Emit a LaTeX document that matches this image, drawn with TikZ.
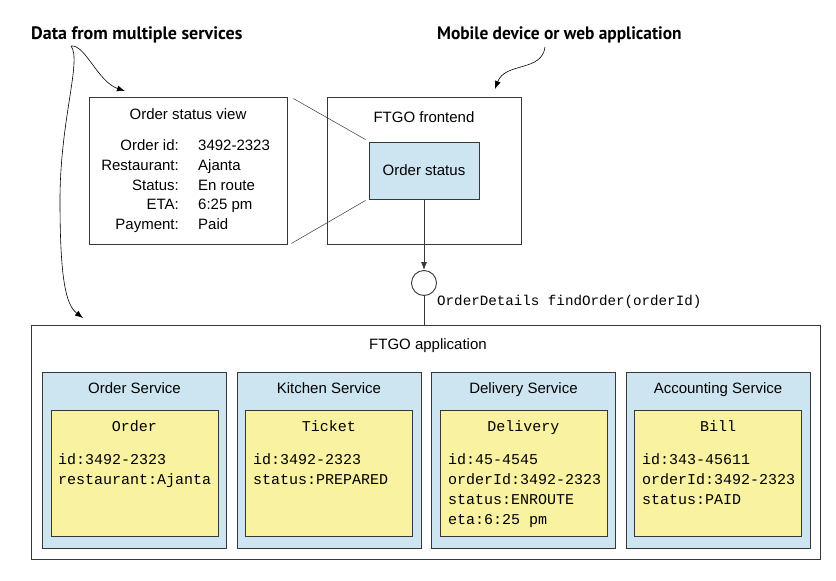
\documentclass[tikz,border=0pt]{standalone}
\usepackage{fontspec}
\setmainfont{Liberation Sans}
\setmonofont{Liberation Mono}
\newfontfamily\calloutfont{PT Sans}
\usetikzlibrary{arrows.meta}

\definecolor{serviceblue}{RGB}{205,229,240}
\definecolor{entityyellow}{RGB}{249,242,160}
\definecolor{boxline}{RGB}{55,55,55}

\tikzset{
  box/.style = {shape=rectangle, draw=boxline, line width=0.9pt, inner sep=0pt},
  servicebox/.style = {box, fill=serviceblue, minimum width=184pt, minimum height=176pt},
  entitybox/.style = {box, fill=entityyellow, minimum width=167pt, minimum height=126pt},
  callout/.style = {font=\calloutfont\bfseries\fontsize{18}{20}\selectfont, inner sep=0pt},
  calloutarrow/.style = {line width=0.6pt, -{Latex[length=8pt,width=6pt]}},
  mono/.style = {font=\ttfamily\fontsize{15}{20}\selectfont, inner sep=0pt},
}

\begin{document}
\begin{tikzpicture}[x=1pt, y=-1pt, every node/.style = {font=\fontsize{15}{18}\selectfont, inner sep=0pt}]
\useasboundingbox (0,0) rectangle (836,581);

% callouts
\node (dataNote) [callout, anchor=base west] at (31,39.5) {Data from multiple services};
\node (deviceNote) [callout, anchor=base west] at (437,39.5) {\scalebox{0.965}[1]{Mobile device or web application}};
\coordinate (dataFork) at (71,46);
\coordinate (viewTip) at (125,91);
\coordinate (appTip) at (83,318);
\coordinate (deviceStart) at (545,47);
\coordinate (frontendTip) at (495,89);

% client side
\node (viewBox) [box, minimum width=198pt, minimum height=147pt] at (188,170.5) {};
\node (viewTitle) [anchor=base] at (188,119.5) {Order status view};
\node (lab1) [anchor=base east] at (179,150.5) {Order id:};
\node (lab2) [anchor=base east] at (179,170.5) {Restaurant:};
\node (lab3) [anchor=base east] at (179,190.5) {Status:};
\node (lab4) [anchor=base east] at (179,209.5) {ETA:};
\node (lab5) [anchor=base east] at (179,229.5) {Payment:};
\node (val1) [anchor=base west] at (198,150.5) {3492-2323};
\node (val2) [anchor=base west] at (198,170.5) {Ajanta};
\node (val3) [anchor=base west] at (198,190.5) {En route};
\node (val4) [anchor=base west] at (198,209.5) {6:25 pm};
\node (val5) [anchor=base west] at (198,229.5) {Paid};

\node (frontendBox) [box, minimum width=194pt, minimum height=147pt] at (424,170.5) {};
\node (frontendTitle) [anchor=base] at (424,122.5) {FTGO frontend};
\node (statusBox) [box, fill=serviceblue, minimum width=110pt, minimum height=57pt] at (424,170.5) {Order status};

\node (endpoint) [shape=circle, draw=boxline, line width=0.9pt, minimum size=25pt] at (424,283) {};
\node (findOrder) [mono, font=\ttfamily\fontsize{14.2}{16}\selectfont, anchor=base west] at (437,305) {OrderDetails findOrder(orderId)};

% server side
\node (appBox) [box, minimum width=789pt, minimum height=234pt] at (425.5,442) {};
\node (appTitle) [anchor=base] at (428,349.5) {FTGO application};

\node (orderService) [servicebox] at (134.5,460) {};
\node (kitchenService) [servicebox] at (329,460) {};
\node (deliveryService) [servicebox] at (523.5,460) {};
\node (accountingService) [servicebox] at (718,460) {};
\node (orderServiceTitle) [anchor=base] at (134.5,393.5) {Order Service};
\node (kitchenServiceTitle) [anchor=base] at (329,393.5) {Kitchen Service};
\node (deliveryServiceTitle) [anchor=base] at (523.5,393.5) {Delivery Service};
\node (accountingServiceTitle) [anchor=base] at (718,393.5) {Accounting Service};

\node (orderEntity) [entitybox] at (134.5,473) {};
\node (ticketEntity) [entitybox] at (329,473) {};
\node (deliveryEntity) [entitybox] at (523.5,473) {};
\node (billEntity) [entitybox] at (718,473) {};
\node (orderName) [mono, anchor=base] at (134.5,431.5) {Order};
\node (ticketName) [mono, anchor=base] at (329,431.5) {Ticket};
\node (deliveryName) [mono, anchor=base] at (523.5,431.5) {Delivery};
\node (billName) [mono, anchor=base] at (718,431.5) {Bill};
\node (orderAttrs) [mono, anchor=north west, align=left] at (58,453) {id:3492-2323\\restaurant:Ajanta};
\node (ticketAttrs) [mono, anchor=north west, align=left] at (253,453) {id:3492-2323\\status:PREPARED};
\node (deliveryAttrs) [mono, anchor=north west, align=left] at (448,453) {id:45-4545\\orderId:3492-2323\\status:ENROUTE\\eta:6:25 pm};
\node (billAttrs) [mono, anchor=north west, align=left] at (642,453) {id:343-45611\\orderId:3492-2323\\status:PAID};

% connectors
\draw[line width=0.5pt, boxline] ([xshift=6pt,yshift=-2pt]viewBox.north east) -- ([xshift=-3pt,yshift=2pt]statusBox.north west);
\draw[line width=0.5pt, boxline] ([xshift=4pt,yshift=1pt]viewBox.south east) -- ([xshift=-3pt,yshift=-1pt]statusBox.south west);
\draw[line width=0.8pt, boxline, -{Latex[length=8pt,width=6pt]}] (statusBox) -- (endpoint);
\draw[line width=0.8pt, boxline] (endpoint) -- (endpoint |- appBox.north);

\draw[calloutarrow] (dataFork) .. controls (85,44) and (98,82) .. (viewTip);
\draw[calloutarrow] (dataFork) .. controls (82,60) and (60,120) .. (60,200) .. controls (60,280) and (66,305) .. (appTip);
\draw[calloutarrow] (deviceStart) .. controls (542,72) and (505,62) .. (frontendTip);
\end{tikzpicture}
\end{document}
